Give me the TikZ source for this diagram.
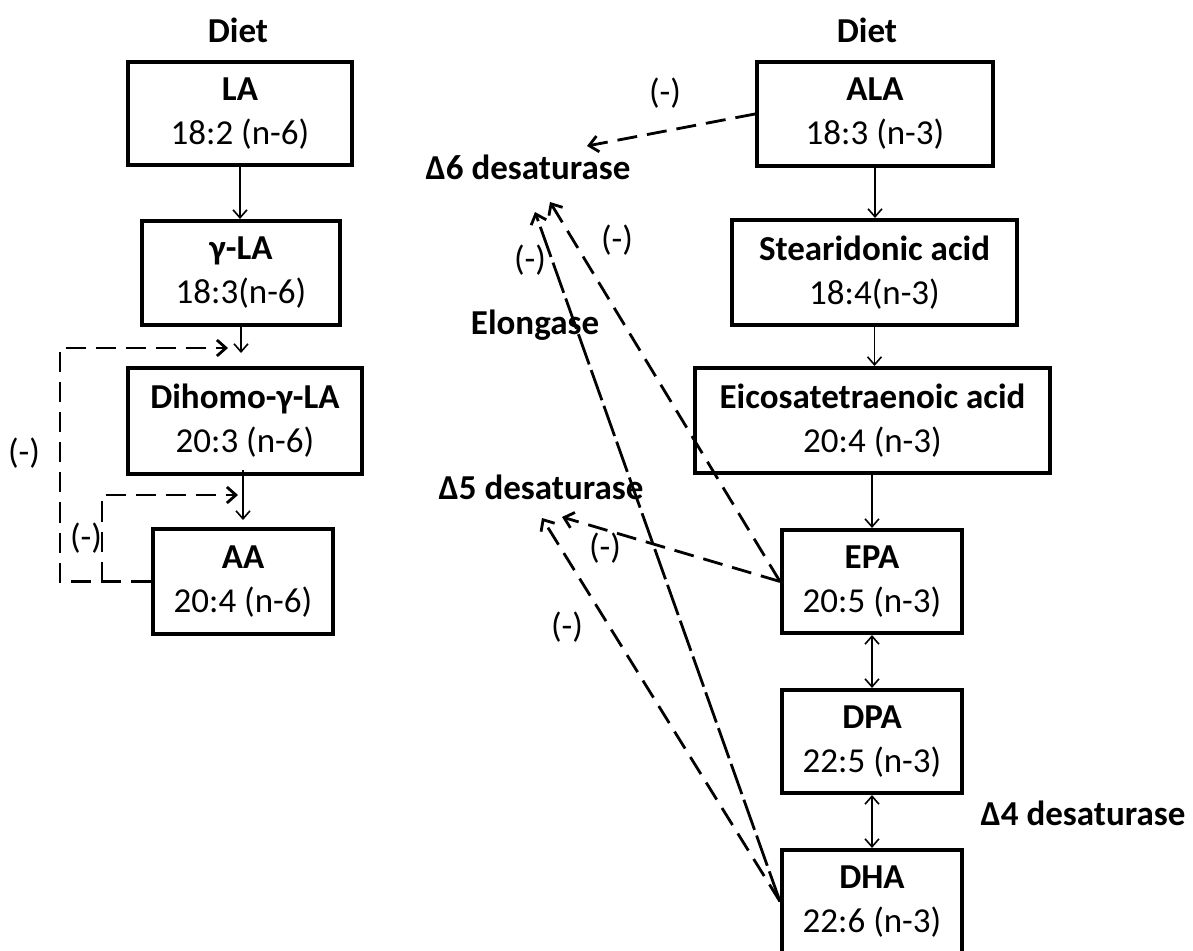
\documentclass[tikz,border=0pt]{standalone}
\usepackage{fontspec}
\setmainfont{Carlito}
\usetikzlibrary{arrows.meta}
\begin{document}
\begin{tikzpicture}[x=0.5pt,y=-0.5pt,
  box/.style={draw, line width=2pt, inner sep=0pt, align=center, font=\fontsize{17.5}{22}\selectfont},
  lbl/.style={font=\fontsize{17.5}{21}\selectfont\bfseries, inner sep=0pt},
  neg/.style={font=\fontsize{17.5}{21}\selectfont, inner sep=0pt},
  flow/.style={line width=0.8pt, -{Straight Barb[length=4pt,width=7pt]}},
  flowtwo/.style={line width=0.8pt, {Straight Barb[length=4pt,width=7pt]}-{Straight Barb[length=4pt,width=7pt]}},
  inhib/.style={line width=1.4pt, dash pattern=on 10pt off 5pt, -{Straight Barb[length=4.5pt,width=8pt]}},
  inhiblong/.style={line width=1.4pt, dash pattern=on 16pt off 3pt, -{Straight Barb[length=4.5pt,width=8pt]}}
]
\useasboundingbox (0,0) rectangle (1193,951);
\fill[white] (0,0) rectangle (1193,951);

% left column
\node[lbl] (dietL) at (238,30) {Diet};
\node[box, minimum width=112pt, minimum height=51.5pt] (LA) at (240,113.5) {\textbf{LA}\\18:2 (n-6)};
\node[box, minimum width=99pt, minimum height=52pt] (gLA) at (241,273) {\textbf{γ-LA}\\18:3(n-6)};
\node[box, minimum width=117pt, minimum height=53pt] (DH) at (245,421) {\textbf{Dihomo-γ-LA}\\20:3 (n-6)};
\node[box, minimum width=90pt, minimum height=52.5pt] (AA) at (243,581.5) {\textbf{AA}\\20:4 (n-6)};

\draw[flow] (LA.south) -- (LA.south |- gLA.north);
\draw[flow, shorten >=6.5pt] (gLA.south) -- (gLA.south |- DH.north);
\draw[flow, shorten <=-3pt, shorten >=3.5pt] (AA.north |- DH.south) -- (AA.north);

\coordinate (tipOuter) at (228,348);
\coordinate (tipInner) at (238,495);
\coordinate (jn) at (102,581.5);
\draw[inhib] (AA.west) -- (60,581.5) |- (tipOuter);
\draw[inhib] (jn) |- (tipInner);
\node[neg] (nL1) at (24,453) {(-)};
\node[neg] (nL2) at (86,538) {(-)};

% right column
\node[lbl] (dietR) at (867,30) {Diet};
\node[box, minimum width=118pt, minimum height=52pt] (ALA) at (875,114) {\textbf{ALA}\\18:3 (n-3)};
\node[box, minimum width=142.5pt, minimum height=52.5pt] (ST) at (874.5,272.5) {\textbf{Stearidonic acid}\\18:4(n-3)};
\node[box, minimum width=177.5pt, minimum height=52.5pt] (EI) at (872.5,420.5) {\textbf{Eicosatetraenoic acid}\\20:4 (n-3)};
\node[box, minimum width=90pt, minimum height=51.5pt] (EPA) at (872,581.5) {\textbf{EPA}\\20:5 (n-3)};
\node[box, minimum width=90pt, minimum height=51.5pt] (DPA) at (872,741.5) {\textbf{DPA}\\22:5 (n-3)};
\node[box, minimum width=90pt, minimum height=51.5pt] (DHA) at (872,901.5) {\textbf{DHA}\\22:6 (n-3)};

\draw[flow] (ALA.south) -- (ALA.south |- ST.north);
\draw[flow] (ST.south) -- (ST.south |- EI.north);
\draw[flow] (EPA.north |- EI.south) -- (EPA.north);
\draw[flowtwo] (EPA.south) -- (DPA.north);
\draw[flowtwo] (DPA.south) -- (DHA.north);

% enzymes
\node[lbl] (d6) at (528,167) {Δ6 desaturase};
\node[lbl] (el) at (535,325) {Elongase};
\node[lbl] (d5) at (541,487) {Δ5 desaturase};
\node[lbl] (d4) at (1083,813) {Δ4 desaturase};

\coordinate (t6a) at (587,146);
\coordinate (t6b) at (550,202);
\coordinate (t6c) at (535,212);
\coordinate (t5a) at (562,517);
\coordinate (t5b) at (542,518);

\draw[inhib] (ALA.west) -- (t6a);
\draw[inhib] (EPA.west) -- (t6b);
\draw[inhiblong] (DHA.west) -- (t6c);
\draw[inhib] (EPA.west) -- (t5a);
\draw[inhib] (DHA.west) -- (t5b);

\node[neg] (n1) at (665,93) {(-)};
\node[neg] (n2) at (530,260) {(-)};
\node[neg] (n3) at (617,240) {(-)};
\node[neg] (n4) at (605,548) {(-)};
\node[neg] (n5) at (567,627) {(-)};
\end{tikzpicture}
\end{document}
